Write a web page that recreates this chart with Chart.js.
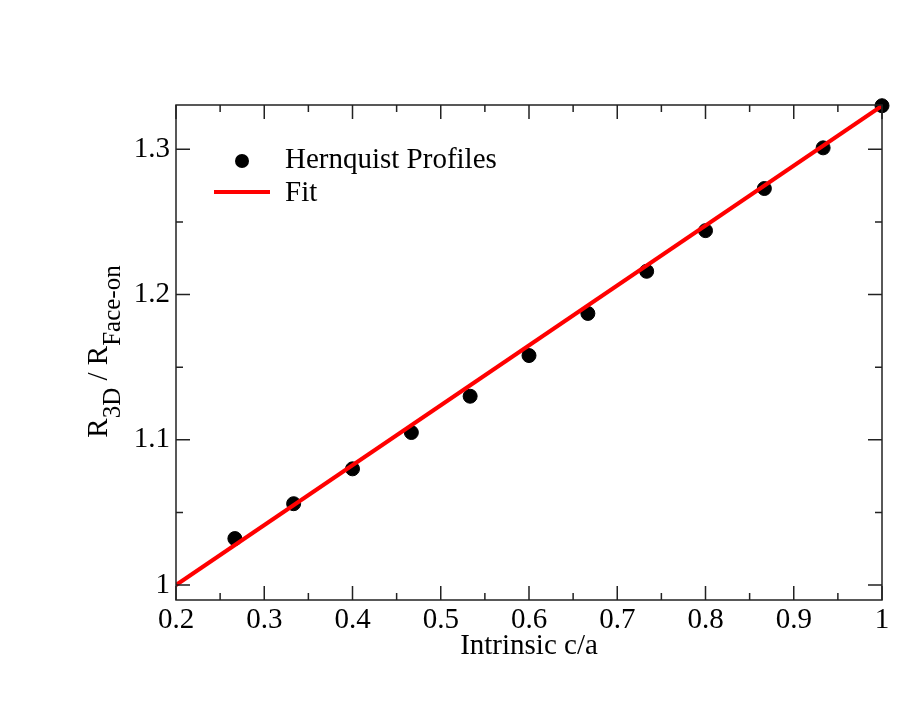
<!DOCTYPE html>
<html>
<head>
<meta charset="utf-8">
<script src="https://cdn.jsdelivr.net/npm/chart.js@4.4.1/dist/chart.umd.min.js"></script>
<style>
  html, body { margin: 0; padding: 0; background: #fff; }
  #wrap { width: 913px; height: 706px; }
</style>
</head>
<body>
<div id="wrap"><canvas id="ratioChart"></canvas></div>
<script>
// points
var intrinsicCA = [0.2667, 0.3333, 0.4, 0.4667, 0.5333, 0.6, 0.6667, 0.7333, 0.8, 0.8667, 0.9333, 1.0];
var hernquistRatio = [1.032, 1.056, 1.080, 1.105, 1.130, 1.158, 1.187, 1.216, 1.244, 1.273, 1.301, 1.330];
var fitCA = [0.2, 1.0];
var fitRatio = [1.0, 1.33];
var xTicks = [0.2, 0.3, 0.4, 0.5, 0.6, 0.7, 0.8, 0.9, 1.0];
var xMinor = [0.25, 0.35, 0.45, 0.55, 0.65, 0.75, 0.85, 0.95];
var yTicks = [1.0, 1.1, 1.2, 1.3];
var yMinor = [1.05, 1.15, 1.25];

var serif = '"Liberation Serif", "Times New Roman", serif';
var inkColor = '#000';
var textSize = 29;

function fmt(v) { return String(Number(v.toFixed(2))); }

// frame, inward ticks, legend and axis titles
var decorations = {
    id: 'decorations',
    afterDraw: function (chart) {
        var ctx = chart.ctx, a = chart.chartArea;
        var xs = chart.scales.x, ys = chart.scales.y;
        ctx.save();
        ctx.strokeStyle = '#222';
        ctx.lineWidth = 1.5;
        ctx.strokeRect(a.left, a.top, a.right - a.left, a.bottom - a.top);

        function xTick(v, len) {
            var px = xs.getPixelForValue(v);
            ctx.beginPath();
            ctx.moveTo(px, a.bottom); ctx.lineTo(px, a.bottom - len);
            ctx.moveTo(px, a.top); ctx.lineTo(px, a.top + len);
            ctx.stroke();
        }
        function yTick(v, len) {
            var py = ys.getPixelForValue(v);
            ctx.beginPath();
            ctx.moveTo(a.left, py); ctx.lineTo(a.left + len, py);
            ctx.moveTo(a.right, py); ctx.lineTo(a.right - len, py);
            ctx.stroke();
        }
        xTicks.forEach(function (v) { xTick(v, 14); });
        xMinor.forEach(function (v) { xTick(v, 7); });
        yTicks.forEach(function (v) { yTick(v, 14); });
        yMinor.forEach(function (v) { yTick(v, 7); });

        // legend
        ctx.fillStyle = inkColor;
        ctx.font = textSize + 'px ' + serif;
        ctx.textBaseline = 'alphabetic';
        ctx.textAlign = 'left';
        ctx.beginPath();
        ctx.arc(242, 161, 7, 0, Math.PI * 2);
        ctx.fill();
        ctx.fillText('Hernquist Profiles', 285, 168);
        ctx.strokeStyle = '#ff0000';
        ctx.lineWidth = 4;
        ctx.beginPath();
        ctx.moveTo(214, 192); ctx.lineTo(270, 192);
        ctx.stroke();
        ctx.fillText('Fit', 285, 201);

        // x title
        ctx.textAlign = 'center';
        ctx.fillText('Intrinsic c/a', (a.left + a.right) / 2, 654);

        // y title with subscripts
        var parts = [
            { t: 'R', size: 29, dy: 0 },
            { t: '3D', size: 25, dy: 13 },
            { t: ' / R', size: 29, dy: 0 },
            { t: 'Face-on', size: 25, dy: 13 }
        ];
        var total = 0;
        parts.forEach(function (p) {
            ctx.font = p.size + 'px ' + serif;
            p.w = ctx.measureText(p.t).width;
            total += p.w;
        });
        ctx.translate(107, (a.top + a.bottom) / 2 - 1);
        ctx.rotate(-Math.PI / 2);
        ctx.textAlign = 'left';
        var x = -total / 2;
        parts.forEach(function (p) {
            ctx.font = p.size + 'px ' + serif;
            ctx.fillText(p.t, x, p.dy);
            x += p.w;
        });
        ctx.restore();
    }
};

var ctx = document.getElementById('ratioChart').getContext('2d');
var ratioChart = new Chart(ctx, {
    type: 'scatter',
    data: {
        datasets: [{
            label: 'Hernquist Profiles',
            data: intrinsicCA.map(function (x, i) { return { x: x, y: hernquistRatio[i] }; }),
            backgroundColor: '#000',
            borderColor: '#000',
            pointRadius: 7,
            pointHoverRadius: 7,
            clip: false,
            order: 2
        }, {
            label: 'Fit',
            type: 'line',
            data: fitCA.map(function (x, i) { return { x: x, y: fitRatio[i] }; }),
            borderColor: '#ff0000',
            borderWidth: 4,
            pointRadius: 0,
            fill: false,
            order: 1
        }]
    },
    options: {
        responsive: true,
        maintainAspectRatio: false,
        animation: false,
        devicePixelRatio: 1,
        layout: { padding: { top: 105, right: 31, left: 0, bottom: 0 } },
        plugins: {
            legend: { display: false },
            tooltip: { enabled: false }
        },
        scales: {
            x: {
                type: 'linear',
                min: 0.2,
                max: 1.0,
                grid: { display: false, drawTicks: false },
                border: { display: false },
                afterBuildTicks: function (s) { s.ticks = xTicks.map(function (v) { return { value: v }; }); },
                afterFit: function (s) { s.height = 106; },
                ticks: {
                    autoSkip: false,
                    maxRotation: 0,
                    padding: 3,
                    color: inkColor,
                    font: { family: serif, size: textSize },
                    callback: function (v) { return fmt(v); }
                }
            },
            y: {
                type: 'linear',
                min: 0.9897,
                max: 1.3305,
                grid: { display: false, drawTicks: false },
                border: { display: false },
                afterBuildTicks: function (s) { s.ticks = yTicks.map(function (v) { return { value: v }; }); },
                afterFit: function (s) { s.width = 176; },
                ticks: {
                    autoSkip: false,
                    padding: 6,
                    color: inkColor,
                    font: { family: serif, size: textSize },
                    callback: function (v) { return fmt(v); }
                }
            }
        }
    },
    plugins: [decorations]
});
</script>
</body>
</html>
